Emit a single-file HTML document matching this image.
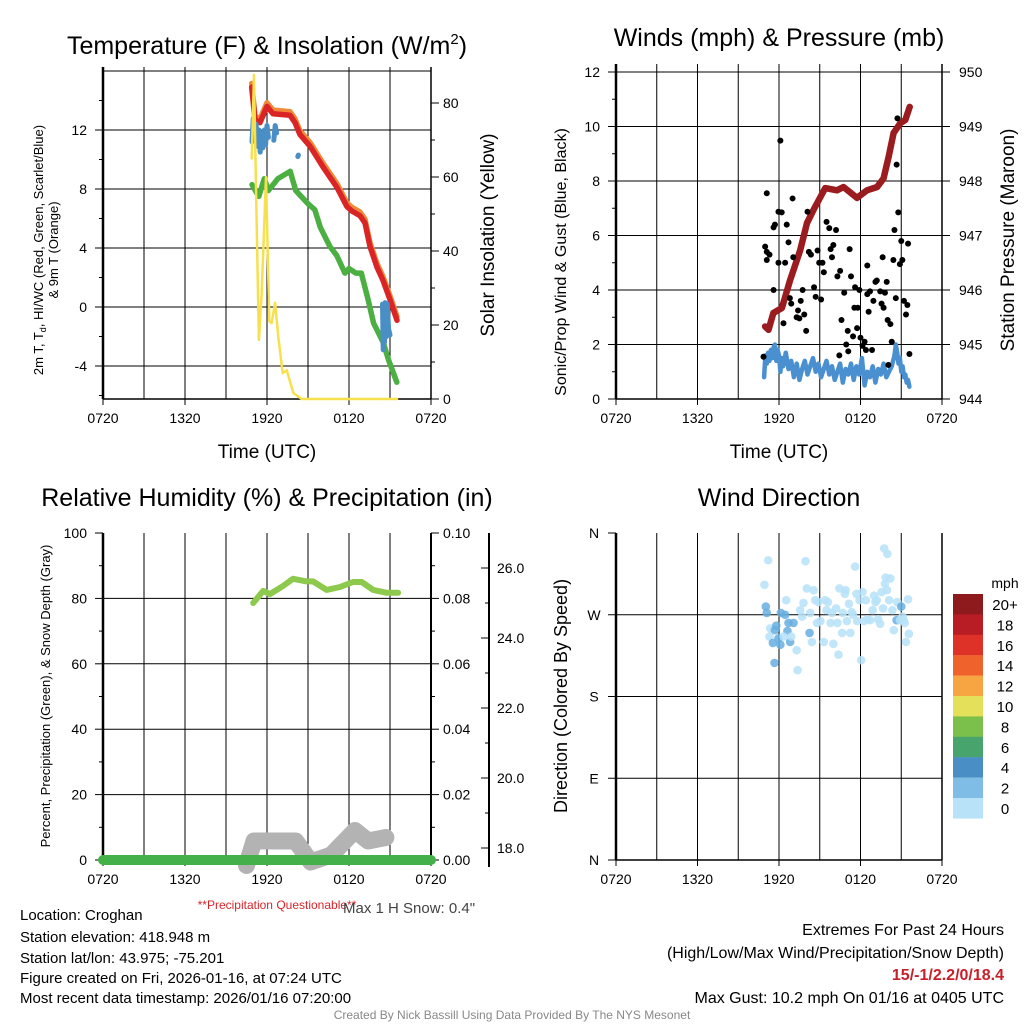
<!DOCTYPE html>
<html><head><meta charset="utf-8"><style>
html,body{margin:0;padding:0;background:#fff;}
svg{display:block;font-family:"Liberation Sans",sans-serif;}
</style></head><body>
<svg id="chart" width="1024" height="1024" viewBox="0 0 1024 1024" xmlns="http://www.w3.org/2000/svg">
<rect x="0" y="0" width="1024" height="1024" fill="#fff"/>
<text x="267" y="54" font-size="25" text-anchor="middle">Temperature (F) &amp; Insolation (W/m<tspan font-size="15" dy="-10">2</tspan><tspan dy="10">)</tspan></text>
<text x="779" y="46" font-size="25" text-anchor="middle">Winds (mph) &amp; Pressure (mb)</text>
<text x="267" y="506" font-size="25" text-anchor="middle">Relative Humidity (%) &amp; Precipitation (in)</text>
<text x="779" y="506" font-size="25" text-anchor="middle">Wind Direction</text>

<text x="267" y="458" font-size="19" text-anchor="middle">Time (UTC)</text>
<text x="779" y="458" font-size="19" text-anchor="middle">Time (UTC)</text>
<text transform="translate(43,250) rotate(-90)" font-size="13" text-anchor="middle">2m T, T<tspan font-size="9" dy="3">d</tspan><tspan dy="-3">, HI/WC (Red, Green, Scarlet/Blue)</tspan></text>
<text transform="translate(58,250) rotate(-90)" font-size="13" text-anchor="middle">&amp; 9m T (Orange)</text>
<text transform="translate(494,235) rotate(-90)" font-size="19" text-anchor="middle">Solar Insolation (Yellow)</text>
<text transform="translate(566,262) rotate(-90)" font-size="16" text-anchor="middle">Sonic/Prop Wind &amp; Gust (Blue, Black)</text>
<text transform="translate(1014,240) rotate(-90)" font-size="19" text-anchor="middle">Station Pressure (Maroon)</text>
<text transform="translate(50,696) rotate(-90)" font-size="13" text-anchor="middle">Percent, Precipitation (Green), &amp; Snow Depth (Gray)</text>
<text transform="translate(567,696) rotate(-90)" font-size="18" text-anchor="middle">Direction (Colored By Speed)</text>

<text x="277" y="909" font-size="12" fill="#d7262b" text-anchor="middle">**Precipitation Questionable**</text>
<text x="343" y="913" font-size="15" fill="#444">Max 1 H Snow: 0.4"</text>

<g font-size="15" fill="#000">
<text x="20" y="920">Location: Croghan</text>
<text x="20" y="942">Station elevation: 418.948 m</text>
<text x="20" y="963">Station lat/lon: 43.975; -75.201</text>
<text x="20" y="983">Figure created on Fri, 2026-01-16, at 07:24 UTC</text>
<text x="20" y="1003">Most recent data timestamp: 2026/01/16 07:20:00</text>
</g>
<g font-size="16" text-anchor="end">
<text x="1004" y="935">Extremes For Past 24 Hours</text>
<text x="1004" y="958">(High/Low/Max Wind/Precipitation/Snow Depth)</text>
<text x="1004" y="980" fill="#c8202a" font-weight="bold">15/-1/2.2/0/18.4</text>
<text x="1004" y="1003">Max Gust: 10.2 mph On 01/16 at 0405 UTC</text>
</g>
<text x="512" y="1019" font-size="12" fill="#888" text-anchor="middle">Created By Nick Bassill Using Data Provided By The NYS Mesonet</text>
<g id="layer"></g>
</svg>
<script>
// ---- data (hours since 07:20 UTC) ----
var xTickLabels = ["0720","1320","1920","0120","0720"];
var tempTimes = [10.88,11.12,11.49,12.0,12.44,13.68,14.05,14.41,15.15,16.1,17.12,17.85,18.22,18.8,19.17,19.54,20.05,20.49,21.0,21.51];
var tempValues = [14.9,12.7,12.5,13.6,13.1,13.0,12.5,11.7,10.9,9.5,8.1,6.8,6.5,6.2,5.7,4.1,2.7,1.8,0.5,-0.9];
var dewTimes = [10.9,11.4,11.8,12.1,12.8,13.7,14.1,15.0,15.5,15.9,16.6,17.1,17.7,18.0,18.5,18.9,19.4,19.8,20.5,20.9,21.5];
var dewValues = [8.3,7.5,8.7,7.9,8.7,9.2,7.9,7.0,6.6,5.4,4.1,3.5,2.3,2.6,2.3,2.3,0.5,-1.1,-2.4,-3.6,-5.1];
var wcTimesA = [10.9,11.0,11.1,11.2,11.3,11.4,11.5,11.6,11.7,11.8,11.9,12.0,12.1];
var wcValuesA = [11.2,12.8,11.5,12.4,10.9,12.0,10.5,11.8,10.8,12.0,11.0,12.3,11.5];
var wcTimesB = [12.5,12.6,12.7];
var wcValuesB = [11.3,12.3,11.8];
var wcTimesC = [14.25,14.3];
var wcValuesC = [10.2,10.3];
var wcTimesD = [20.45,20.5,20.55,20.6,20.65,20.7,20.75,20.8,20.9,21.0];
var wcValuesD = [0.2,-2.9,-0.5,-2.4,0.3,-1.0,-2.0,0.2,-1.5,-1.9];
var solarTimes = [10.88,11.05,11.2,11.41,11.61,11.93,12.17,12.34,12.59,12.83,13.15,13.44,13.93,14.54,21.51];
var solarValues = [65,87.6,55.6,16,28.6,60,21,20.5,26,16.8,7,7.8,1.6,0,0];
var presTimes = [10.98,11.23,11.59,12.21,12.82,13.56,14.06,14.54,15.4,16.27,16.75,17.74,18.48,19.22,19.7,20.07,20.44,20.93,21.3,21.62];
var presValues = [945.33,945.27,945.58,945.67,946.18,946.73,947.23,947.47,947.87,947.83,947.89,947.69,947.83,947.89,948.05,948.44,948.88,949.06,949.12,949.36];
var windTimes = [10.9,11.0,11.1,11.2,11.3,11.4,11.5,11.6,11.7,11.8,11.9,12.0,12.1,12.2,12.3,12.5,12.7,12.9,13.1,13.3,13.5,13.7,13.9,14.1,14.3,14.5,14.7,14.9,15.1,15.3,15.5,15.7,15.9,16.1,16.3,16.5,16.7,16.9,17.1,17.3,17.5,17.7,17.9,18.1,18.3,18.5,18.7,18.9,19.1,19.3,19.5,19.7,19.9,20.1,20.3,20.5,20.6,20.7,20.8,20.9,21.0,21.1,21.2,21.3,21.4,21.5,21.6];
var windValues = [0.8,1.6,1.3,1.7,1.4,1.8,1.5,1.9,2.0,1.4,1.8,1.6,1.0,1.5,1.2,1.7,1.1,1.4,0.8,1.3,0.7,1.1,1.4,0.9,1.2,1.5,1.0,1.3,0.8,1.1,1.4,0.9,1.2,0.7,1.0,1.3,0.6,1.1,0.9,1.3,0.7,1.2,0.9,1.5,0.5,1.0,0.8,1.2,0.6,1.1,0.9,1.3,0.8,1.0,1.2,1.6,2.0,1.7,1.3,1.5,1.0,1.2,0.8,0.9,0.6,0.7,0.45];
var gustTimes = [10.86,10.98,11.1,11.1,11.1,11.3,11.6,11.6,11.7,11.96,11.96,12.1,12.2,12.33,12.45,12.57,12.7,12.8,12.9,13.0,13.05,13.3,13.4,13.5,13.6,13.74,13.86,14.0,14.1,14.2,14.35,14.58,14.7,14.84,14.96,15.1,15.2,15.3,15.5,15.7,15.8,15.9,16.0,16.2,16.3,16.44,16.5,16.6,16.8,16.95,17.06,17.1,17.2,17.3,17.45,17.55,17.6,17.75,17.8,17.92,18.0,18.15,18.3,18.4,18.5,18.5,18.6,18.7,18.85,18.95,19.1,19.2,19.45,19.55,19.63,19.7,19.8,19.93,20.0,20.05,20.2,20.3,20.42,20.5,20.6,20.66,20.72,20.78,20.9,21.0,21.08,21.2,21.35,21.45,21.5,21.6];
var gustValues = [1.55,5.59,5.4,7.55,5.1,5.3,4.0,6.3,6.4,6.87,5.0,9.48,6.85,2.78,5.0,6.4,5.75,3.7,3.5,7.36,5.2,3.0,3.25,2.96,3.6,4.0,3.1,2.5,6.87,5.4,5.3,4.1,3.75,5.45,5.0,3.65,5.0,4.65,6.5,6.27,5.5,5.2,5.65,6.2,4.5,1.6,4.7,2.9,3.9,2.0,2.5,1.75,5.5,4.5,2.3,3.35,4.1,2.6,3.35,4.0,2.25,1.95,2.1,1.8,4.9,3.85,3.2,3.95,1.8,3.6,4.3,4.35,3.95,3.5,5.2,3.35,3.9,4.3,2.9,1.25,2.75,2.1,5.1,6.2,3.7,8.6,10.3,6.85,4.95,5.8,5.1,3.6,3.1,3.45,5.7,1.65];
var rhTimes = [10.99,11.72,12.22,13.17,13.9,14.9,15.37,16.37,17.34,18.29,18.93,19.76,20.76,21.59];
var rhValues = [78.6,82.3,81.3,83.8,86,85.2,85.2,82.6,83.5,85,85,82.6,81.7,81.7];
var precipTimes = [0,24];
var precipValues = [0,0];
var snowTimes = [10.5,11.05,13.24,14.1,15.2,16.7,17.7,18.44,19.4,20.7];
var snowValues = [17.5,18.2,18.2,18.2,17.6,17.8,18.2,18.5,18.2,18.3];
var dirTimes = [11.2,10.93,11.03,11.1,11.35,11.8,11.7,11.3,11.96,11.55,12.1,11.67,12.14,12.45,12.53,12.7,13.07,12.62,12.82,12.33,12.9,13.3,13.37,13.56,13.7,13.8,13.95,14.05,14.25,14.3,14.42,14.55,14.67,14.8,14.9,15.05,15.3,15.4,15.5,15.6,15.8,15.9,16.0,16.2,16.3,16.38,16.45,16.65,16.7,16.85,16.9,17.0,17.15,17.25,17.35,17.45,17.6,17.7,17.75,17.93,18.05,18.15,18.25,18.4,18.5,18.7,18.9,19.0,19.1,19.2,19.3,19.45,19.55,19.66,19.8,19.85,19.95,20.1,20.2,20.35,20.45,20.66,20.7,20.9,21.0,21.1,21.17,21.25,21.35,21.5,21.56,19.74,19.98];
var dirValues = [330,303,279,272,255,258,253,246,244,239,237,217,272,270,286,261,261,252,240,246,246,231,209,275,268,283,329,299,250,272,240,297,286,261,284,263,240,286,275,284,261,272,238,277,261,226,299,250,272,293,297,263,282,250,273,270,323,293,263,286,220,295,263,286,265,264,275,291,284,286,265,260,295,277,304,311,297,286,310,275,253,264,284,264,279,268,264,261,240,287,249,343,337];
var dirSpeeds = [1,1,2.5,2.5,1,2.5,2.5,1,2.5,2.5,2.5,2.5,2.5,2.5,1,2.5,2.5,2.5,2.5,1,1,1,1,1,1,1,1,1,2.5,1,1,1,1,1,1,1,1,1,1,1,1,1,1,1,1,1,1,1,1,1,1,1,1,1,1,1,1,1,1,1,1,1,1,1,1,1,1,1,1,1,1,1,1,1,1,1,1,1,1,1,1,2.5,1,1,2.5,1,1,1,1,1,1,1,1];
var legendLabels = ["20+","18","16","14","12","10","8","6","4","2","0"];
var legendColors = ["#8f1a1d","#b81c24","#de3127","#f0622b","#f7a443","#e5e05a","#7cc04c","#47a46d","#4a8ec6","#80bde6","#b7e2f8"];

var NS = "http://www.w3.org/2000/svg";
var layer = document.getElementById("layer");
function mk(tag, parent){ var e=document.createElementNS(NS,tag); (parent||layer).appendChild(e); return e; }
function attr(e,o){ for(var k in o) e.setAttribute(k,o[k]); return e; }

function hxL(h){ return 103 + h*328/24; }
function hxR(h){ return 616 + h*326/24; }
function yTemp(v){ return 307 - v*14.75; }
function ySolar(v){ return 399 - v*3.7; }
function yWind(v){ return 399 - v*27.25; }
function yPres(p){ return 399 - (p-944)*54.5; }
function yRH(v){ return 860 - v*3.27; }
function yPrecip(p){ return 860 - p*3270; }
function ySnow(s){ return 848 - (s-18)*35; }
function yDir(d){ return 860 - d*327/360; }

function line(x1,y1,x2,y2,stroke,w,name){
  var l=mk("line"); attr(l,{x1:x1,y1:y1,x2:x2,y2:y2,stroke:stroke,"stroke-width":w});
  
  
  return l;
}
function txt(x,y,s,size,anchor,name){
  var t=mk("text"); attr(t,{x:x,y:y,"font-size":size,"text-anchor":anchor}); t.textContent=s;
  
  
  return t;
}
function series(ts,vs,xf,yf,color,w,name,opacity){
  var p=mk("polyline"); var pts=[];
  for(var i=0;i<ts.length;i++) pts.push(xf(ts[i]).toFixed(1)+","+yf(vs[i]).toFixed(1));
  attr(p,{points:pts.join(" "),fill:"none",stroke:color,"stroke-width":w,"stroke-linejoin":"round","stroke-linecap":"round","stroke-opacity":opacity||1});
  
  
  return p;
}

function timeAxis(xf, x0, x1, yb, ytop, prefix){
  for(var h=3; h<24; h+=3){ line(xf(h),ytop,xf(h),yb,"#000",1,prefix+"-vgrid"); }
  for(var i=0;i<xTickLabels.length;i++){
    var h2=i*6;
    line(xf(h2),yb,xf(h2),yb+6,"#000",1,prefix+"-x-tick");
    txt(xf(h2),yb+24,xTickLabels[i],14,"middle",prefix+"-x-tick-label");
  }
  line(x0,yb,x1,yb,"#000",1.5,prefix+"-x-axis");
}

(function(){
  var x0=103,x1=431,yt=67,yb=399;
  timeAxis(hxL,x0,x1,yb,yt,"temp");
  [-4,0,4,8,12,16].forEach(function(v){ line(x0,yTemp(v),x1,yTemp(v),"#000",1,"temp-hgrid"); });
  [-4,0,4,8,12].forEach(function(v){ line(x0-8,yTemp(v),x0,yTemp(v),"#000",1,"temp-y-tick"); txt(x0-16,yTemp(v)+5,String(v),14,"end","temp-y-tick-label"); });
  [-6,-2,2,6,10,14].forEach(function(v){ line(x0-4,yTemp(v),x0,yTemp(v),"#000",1,"temp-y-minor-tick"); });
  [0,20,40,60,80].forEach(function(v){ line(x1,ySolar(v),x1+8,ySolar(v),"#000",1,"solar-y-tick"); txt(x1+12,ySolar(v)+5,String(v),14,"start","solar-y-tick-label"); });
  [10,30,50,70].forEach(function(v){ line(x1,ySolar(v),x1+4,ySolar(v),"#000",1,"solar-y-minor-tick"); });
  line(x0,yt,x0,yb,"#000",2.5,"temp-y-axis");
  line(x1,yt,x1,yb,"#000",1.5,"solar-y-axis");
  series(tempTimes,tempValues.map(function(v){return v+0.25;}),hxL,yTemp,"#f08a3a",5.5,"nine-meter-temp-line");
  series(dewTimes,dewValues,hxL,yTemp,"#4bb041",5.5,"dewpoint-line");
  series(tempTimes,tempValues,hxL,yTemp,"#d92526",5.5,"temperature-line");
  series(wcTimesA,wcValuesA,hxL,yTemp,"#4a8ec6",5,"windchill-line-a");
  series(wcTimesB,wcValuesB,hxL,yTemp,"#4a8ec6",5,"windchill-line-b");
  series(wcTimesC,wcValuesC,hxL,yTemp,"#4a8ec6",5,"windchill-line-c");
  series(wcTimesD,wcValuesD,hxL,yTemp,"#4a8ec6",5,"windchill-line-d");
  series(solarTimes,solarValues,hxL,ySolar,"#f7e04e",2.5,"solar-insolation-line");
})();

(function(){
  var x0=616,x1=942,yt=64,yb=399;
  timeAxis(hxR,x0,x1,yb,yt,"wind");
  [2,4,6,8,10,12].forEach(function(v){ line(x0,yWind(v),x1,yWind(v),"#000",1,"wind-hgrid"); });
  [0,2,4,6,8,10,12].forEach(function(v){ line(x0-8,yWind(v),x0,yWind(v),"#000",1,"wind-y-tick"); txt(x0-16,yWind(v)+5,String(v),14,"end","wind-y-tick-label"); });
  [1,3,5,7,9,11].forEach(function(v){ line(x0-4,yWind(v),x0,yWind(v),"#000",1,"wind-y-minor-tick"); });
  [944,945,946,947,948,949,950].forEach(function(v){ line(x1,yPres(v),x1+8,yPres(v),"#000",1,"pressure-y-tick"); txt(x1+17,yPres(v)+5,String(v),14,"start","pressure-y-tick-label"); });
  line(x0,yt,x0,yb,"#000",2.5,"wind-y-axis");
  line(x1,yt,x1,yb,"#000",1.5,"pressure-y-axis");
  series(windTimes,windValues,hxR,yWind,"#4a90d0",4.5,"wind-speed-line");
  series(presTimes,presValues,hxR,yPres,"#9b1c1f",6.5,"pressure-line");
  for(var i=0;i<gustTimes.length;i++){
    var c=mk("circle"); attr(c,{cx:hxR(gustTimes[i]),cy:yWind(gustValues[i]),r:3,fill:"#000"});
    
    
  }
})();

(function(){
  var x0=103,x1=431,yt=533,yb=860;
  timeAxis(hxL,x0,x1,yb,yt,"rh");
  [20,40,60,80].forEach(function(v){ line(x0,yRH(v),x1,yRH(v),"#000",1,"rh-hgrid"); });
  [0,20,40,60,80,100].forEach(function(v){ line(x0-8,yRH(v),x0,yRH(v),"#000",1,"rh-y-tick"); txt(x0-16,yRH(v)+5,String(v),14,"end","rh-y-tick-label"); });
  [10,30,50,70,90].forEach(function(v){ line(x0-4,yRH(v),x0,yRH(v),"#000",1,"rh-y-minor-tick"); });
  ["0.00","0.02","0.04","0.06","0.08","0.10"].forEach(function(s){ var v=parseFloat(s); line(x1,yPrecip(v),x1+8,yPrecip(v),"#000",1,"precip-y-tick"); txt(x1+12,yPrecip(v)+5,s,14,"start","precip-y-tick-label"); });
  [0.01,0.03,0.05,0.07,0.09].forEach(function(v){ line(x1,yPrecip(v),x1+4,yPrecip(v),"#000",1,"precip-y-minor-tick"); });
  line(x0,yt,x0,yb,"#000",2.5,"rh-y-axis");
  line(x1,yt,x1,yb,"#000",2,"precip-y-axis");
  line(489,533,489,867,"#000",2,"snow-y-axis");
  ["18.0","20.0","22.0","24.0","26.0"].forEach(function(s){ var v=parseFloat(s); line(481,ySnow(v),489,ySnow(v),"#000",1,"snow-y-tick"); txt(497,ySnow(v)+5,s,14,"start","snow-y-tick-label"); });
  [19,21,23,25].forEach(function(v){ line(485,ySnow(v),489,ySnow(v),"#000",1,"snow-y-minor-tick"); });
  series(snowTimes,snowValues,hxL,ySnow,"#b3b3b3",17,"snow-depth-line");
  series(precipTimes,precipValues,hxL,yPrecip,"#44b04a",10,"precipitation-line");
  series(rhTimes,rhValues,hxL,yRH,"#8cc94c",6,"relative-humidity-line");
})();

(function(){
  var x0=616,x1=942,yt=533,yb=860;
  timeAxis(hxR,x0,x1,yb,yt,"dir");
  var dl=["N","E","S","W","N"];
  for(var i=0;i<5;i++){ var d=i*90; if(i>0&&i<4) line(x0,yDir(d),x1,yDir(d),"#000",1,"dir-hgrid");
    line(x0-8,yDir(d),x0,yDir(d),"#000",1,"dir-y-tick"); txt(x0-22,yDir(d)+5,dl[i],14,"middle","dir-y-tick-label"); }
  line(x0,yt,x0,yb,"#000",2.5,"dir-y-axis");
  line(x1,yt,x1,yb,"#000",1.5,"dir-right-axis");
  for(var j=0;j<dirTimes.length;j++){
    var idx=10-Math.min(10,Math.floor(dirSpeeds[j]/2));
    var c=mk("circle"); attr(c,{cx:hxR(dirTimes[j]),cy:yDir(dirValues[j]),r:4.3,fill:idx===9?"#66aee0":legendColors[idx],"fill-opacity":0.85});
    
    
  }
  txt(1005,588,"mph",14,"middle","legend-title");
  for(var k=0;k<legendLabels.length;k++){
    var r=mk("rect"); attr(r,{x:953,y:594+k*20.4,width:30,height:20.6,fill:legendColors[k]});
    
    
    txt(1005,594+k*20.4+16,legendLabels[k],15,"middle","legend-label");
  }
})();
</script>
</body></html>
